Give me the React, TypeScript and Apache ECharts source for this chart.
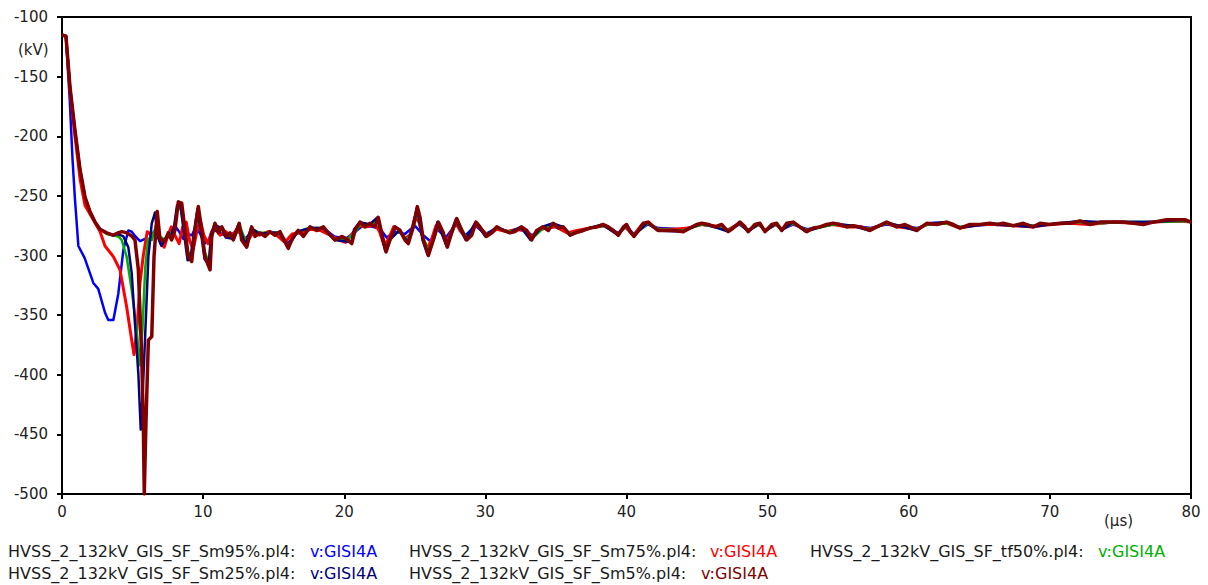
import React, { useEffect, useRef } from "react";
import * as echarts from "echarts";

// Time axis (µs) and voltage axis (kV) ranges
const xTicks = [0, 10, 20, 30, 40, 50, 60, 70, 80];
const yTicks = [-500, -450, -400, -350, -300, -250, -200, -150, -100];

// [time µs, voltage kV]
const sm95: number[][] = [
  [0,-115],[0.28,-117],[0.55,-170],[0.75,-220],[0.92,-253],[1.16,-292],[1.6,-302],[2.22,-323],[2.57,-328],[3.05,-348],[3.28,-354],[3.64,-354],[3.99,-332],[4.35,-295],[4.7,-279],[4.94,-280],[5.2,-284],[5.53,-288],[5.88,-286],[6.24,-287],[6.5,-280],[6.8,-283],[7.1,-290],[7.4,-285],[7.7,-282],[8.0,-275],[8.3,-280],[8.6,-286],[8.9,-282],[9.2,-283],[9.5,-276],[9.8,-282],[10.1,-290],[10.4,-287],[10.7,-278],[11.0,-280],[11.5,-283],[12.0,-282],[12.5,-280],[13.0,-286],[13.5,-279],[14.0,-282],[14.7,-281],[15.4,-281],[16.0,-290],[16.7,-280],[17.5,-278],[18.5,-277],[19.3,-284],[20.1,-286],[20.8,-280],[21.3,-275],[22.0,-276],[22.5,-277],[23.0,-285],[23.6,-280],[24.3,-282],[25.0,-275],[25.6,-283],[26.1,-288],[26.6,-278],[27.2,-285],[27.9,-274],[28.6,-283],[29.3,-275],[30.0,-282],[30.8,-277],[31.7,-280],[32.6,-277],[33.3,-283],[34.1,-277],[35.0,-276],[36.0,-281],[37.4,-277],[38.4,-275],[39.4,-281],[40.0,-275],[40.5,-282],[41.5,-274],[42.3,-277],[44.0,-278],[45.3,-274],[46.3,-276],[47.2,-279],[48.0,-274],[48.6,-279],[49.4,-274],[49.8,-279],[50.6,-274],[51.0,-278],[51.8,-274],[52.8,-278],[54.6,-274],[56.0,-275],[57.3,-277],[58.4,-274],[60.6,-277],[61.3,-274],[62.7,-273],[63.6,-276],[65.8,-274],[67.4,-275],[68.8,-275],[70.7,-273],[72.1,-272],[73.5,-273],[75.2,-272],[77.3,-272],[79.6,-271],[80,-272],
];

const sm75: number[][] = [
  [0,-115],[0.28,-116],[0.57,-162],[0.92,-200],[1.28,-236],[1.63,-258],[2.22,-270],[2.7,-280],[3.05,-292],[3.64,-301],[4.11,-312],[4.58,-343],[4.94,-371],[5.1,-383],[5.31,-362],[5.53,-323],[5.76,-300],[6.04,-280],[6.36,-283],[6.71,-279],[7.0,-290],[7.25,-293],[7.5,-283],[7.75,-276],[8.0,-283],[8.3,-290],[8.55,-276],[8.8,-272],[9.05,-288],[9.3,-295],[9.55,-280],[9.8,-270],[10.05,-283],[10.35,-290],[10.6,-280],[10.9,-277],[11.2,-283],[11.6,-280],[12.0,-284],[12.4,-278],[12.8,-284],[13.2,-287],[13.6,-280],[14.0,-283],[14.6,-280],[15.2,-283],[15.8,-289],[16.3,-282],[17.0,-281],[17.6,-278],[18.3,-279],[19.0,-283],[19.6,-287],[20.1,-289],[20.6,-281],[21.0,-275],[21.6,-276],[22.2,-274],[22.5,-280],[22.8,-291],[23.1,-287],[23.5,-276],[23.9,-278],[24.3,-286],[24.7,-282],[25.0,-268],[25.3,-272],[25.6,-287],[25.9,-294],[26.2,-286],[26.5,-275],[26.9,-280],[27.2,-290],[27.5,-282],[27.9,-272],[28.2,-279],[28.6,-285],[29.0,-281],[29.3,-274],[29.7,-278],[30.2,-283],[30.8,-278],[31.5,-280],[32.2,-278],[33.0,-280],[33.3,-285],[33.7,-279],[34.3,-277],[35.0,-276],[35.8,-281],[36.5,-279],[37.4,-277],[38.4,-275],[39.0,-279],[39.4,-282],[39.9,-276],[40.5,-283],[41.1,-274],[41.6,-273],[42.2,-278],[43.4,-278],[44.4,-277],[45.3,-274],[46.2,-275],[47.1,-279],[48.0,-273],[48.6,-279],[49.4,-274],[49.8,-279],[50.6,-274],[51.0,-278],[51.8,-273],[52.7,-279],[53.7,-276],[54.6,-274],[55.6,-276],[56.6,-276],[57.2,-278],[58.4,-273],[59.2,-276],[60.5,-278],[61.3,-274],[62.7,-273],[63.6,-277],[65.0,-274],[66.2,-274],[67.4,-275],[68.8,-276],[70.0,-274],[71.4,-273],[72.8,-274],[74.5,-272],[75.9,-273],[77.3,-272],[79.2,-271],[80,-272],
];

const tf50: number[][] = [
  [0,-115],[0.28,-116],[0.57,-159],[0.92,-195],[1.28,-228],[1.63,-251],[1.98,-263],[2.34,-272],[2.69,-278],[3.17,-282],[3.61,-283],[3.99,-284],[4.23,-287],[4.58,-301],[4.94,-329],[5.29,-362],[5.5,-392],[5.7,-362],[5.9,-310],[6.1,-286],[6.36,-287],[6.71,-273],[6.95,-284],[7.3,-287],[7.6,-282],[7.9,-280],[8.15,-262],[8.4,-260],[8.65,-278],[8.9,-297],[9.15,-300],[9.4,-280],[9.6,-264],[9.85,-278],[10.1,-297],[10.4,-305],[10.6,-285],[10.85,-275],[11.3,-278],[11.7,-283],[12.2,-285],[12.6,-275],[13.1,-291],[13.5,-278],[14.0,-281],[14.7,-281],[15.4,-281],[16.0,-292],[16.7,-280],[17.5,-277],[18.5,-277],[19.3,-286],[20.2,-287],[20.8,-280],[21.2,-273],[21.9,-274],[22.4,-270],[22.9,-294],[23.3,-286],[23.9,-279],[24.4,-288],[24.9,-277],[25.2,-262],[25.6,-285],[26.0,-297],[26.4,-285],[26.7,-273],[27.3,-291],[28.0,-270],[28.7,-286],[29.4,-273],[30.1,-283],[30.8,-277],[31.7,-280],[32.6,-277],[33.3,-286],[34.1,-277],[34.8,-274],[35.5,-276],[36.0,-282],[37.4,-277],[38.4,-275],[39.4,-282],[40.0,-275],[40.5,-283],[41.5,-273],[42.3,-278],[44.0,-279],[45.3,-274],[46.3,-276],[47.2,-279],[48.0,-273],[48.6,-279],[49.4,-274],[49.8,-279],[50.6,-274],[51.0,-278],[51.8,-273],[52.8,-279],[54.6,-274],[56.0,-275],[57.3,-278],[58.4,-273],[60.6,-278],[61.3,-274],[62.7,-273],[63.6,-276],[65.8,-273],[67.4,-275],[68.8,-275],[70.7,-273],[72.1,-272],[73.5,-273],[75.2,-272],[77.3,-272],[79.6,-271],[80,-272],
];

const sm25: number[][] = [
  [0,-115],[0.28,-116],[0.57,-159],[0.92,-195],[1.28,-228],[1.63,-251],[1.98,-263],[2.34,-272],[2.69,-278],[3.17,-281],[3.61,-283],[3.97,-282],[4.35,-284],[4.7,-293],[4.94,-315],[5.17,-357],[5.41,-399],[5.58,-446],[5.7,-420],[5.88,-371],[6.12,-301],[6.36,-273],[6.59,-264],[6.8,-285],[7.05,-292],[7.4,-284],[7.7,-285],[7.95,-275],[8.15,-258],[8.4,-258],[8.65,-282],[8.9,-304],[9.1,-303],[9.35,-280],[9.6,-261],[9.85,-281],[10.1,-303],[10.4,-308],[10.55,-283],[10.8,-274],[11.3,-277],[11.6,-285],[12.1,-286],[12.5,-274],[13.0,-291],[13.4,-277],[14.0,-282],[14.7,-281],[15.4,-281],[16.0,-293],[16.7,-280],[17.5,-277],[18.5,-277],[19.3,-287],[20.1,-288],[20.5,-289],[20.7,-278],[21.1,-272],[21.8,-274],[22.35,-268],[22.9,-296],[23.2,-287],[23.9,-279],[24.5,-289],[24.85,-276],[25.15,-260],[25.55,-287],[25.9,-299],[26.3,-287],[26.6,-272],[27.25,-292],[27.9,-270],[28.6,-287],[29.3,-272],[30.0,-284],[30.8,-276],[31.7,-281],[32.5,-276],[33.2,-287],[34.0,-276],[34.8,-273],[35.5,-276],[36.0,-283],[37.4,-277],[38.3,-274],[39.4,-283],[40.0,-274],[40.5,-284],[41.5,-272],[42.2,-279],[44.0,-280],[45.3,-273],[46.2,-276],[47.2,-280],[48.0,-272],[48.6,-280],[49.4,-273],[49.8,-280],[50.6,-273],[51.0,-279],[51.8,-272],[52.7,-280],[54.6,-273],[56.0,-275],[57.2,-279],[58.4,-272],[60.5,-279],[61.3,-273],[62.7,-272],[63.6,-277],[65.7,-273],[67.4,-275],[68.8,-276],[70.7,-273],[72.1,-271],[73.5,-272],[75.2,-272],[77.3,-272],[79.5,-270],[80,-272],
];

const sm5: number[][] = [
  [0,-115],[0.28,-116],[0.57,-159],[0.92,-195],[1.28,-228],[1.63,-251],[1.98,-263],[2.34,-272],[2.69,-278],[3.17,-281],[3.61,-283],[3.97,-281],[4.25,-280],[4.61,-281],[4.96,-284],[5.17,-287],[5.41,-312],[5.65,-385],[5.76,-440],[5.83,-500],[5.95,-440],[6.12,-371],[6.36,-368],[6.52,-301],[6.75,-263],[6.94,-286],[7.3,-288],[7.53,-281],[7.77,-287],[8.0,-279],[8.24,-255],[8.48,-256],[8.72,-279],[8.95,-301],[9.19,-305],[9.42,-279],[9.66,-259],[9.9,-279],[10.13,-301],[10.49,-312],[10.61,-284],[10.84,-273],[11.08,-281],[11.32,-276],[11.67,-284],[11.9,-281],[12.14,-287],[12.56,-273],[12.73,-287],[13.09,-293],[13.44,-276],[13.68,-284],[14.03,-281],[14.38,-284],[14.74,-280],[15.09,-283],[15.45,-280],[16.03,-294],[16.39,-284],[16.74,-279],[17.1,-284],[17.57,-276],[18.05,-279],[18.52,-276],[18.87,-281],[19.35,-287],[19.82,-284],[20.17,-286],[20.53,-290],[20.76,-279],[21.12,-272],[21.47,-276],[21.83,-273],[22.18,-276],[22.41,-268],[22.65,-281],[22.96,-297],[23.24,-287],[23.6,-276],[23.95,-279],[24.3,-287],[24.54,-290],[24.89,-276],[25.18,-259],[25.37,-268],[25.6,-287],[25.96,-300],[26.31,-287],[26.67,-272],[27.02,-281],[27.3,-293],[27.61,-281],[27.97,-269],[28.32,-279],[28.68,-287],[29.03,-283],[29.34,-272],[29.62,-276],[30.09,-284],[30.45,-281],[30.8,-276],[31.27,-279],[31.74,-281],[32.1,-280],[32.57,-276],[32.93,-279],[33.28,-287],[33.63,-279],[34.1,-276],[34.46,-279],[34.81,-273],[35.17,-277],[35.52,-276],[36.0,-283],[36.35,-281],[36.94,-279],[37.41,-277],[37.89,-276],[38.36,-274],[38.71,-276],[39.07,-279],[39.42,-283],[39.78,-276],[40.01,-274],[40.25,-280],[40.53,-284],[40.84,-279],[41.19,-273],[41.54,-272],[41.9,-276],[42.25,-279],[42.85,-279],[43.44,-279],[44.03,-280],[44.5,-277],[44.97,-274],[45.33,-273],[45.8,-274],[46.27,-276],[46.74,-274],[47.21,-280],[47.57,-277],[48.04,-272],[48.4,-276],[48.63,-280],[49.1,-274],[49.46,-273],[49.81,-280],[50.29,-274],[50.64,-273],[51.0,-279],[51.35,-273],[51.82,-272],[52.29,-276],[52.77,-280],[53.24,-277],[53.71,-276],[54.18,-274],[54.65,-273],[55.13,-274],[55.6,-276],[56.07,-275],[56.55,-276],[57.25,-279],[57.73,-276],[58.44,-272],[59.15,-276],[59.73,-274],[60.09,-276],[60.56,-279],[61.27,-273],[61.98,-274],[62.69,-272],[63.16,-274],[63.63,-277],[64.34,-274],[65.05,-274],[65.76,-273],[66.23,-274],[66.7,-273],[67.41,-275],[68.12,-273],[68.83,-276],[69.3,-273],[70.01,-274],[70.72,-273],[71.43,-273],[72.14,-271],[72.84,-274],[73.55,-272],[74.5,-272],[75.2,-272],[75.91,-273],[76.62,-274],[77.33,-272],[78.27,-270],[79.22,-270],[79.57,-270],[80,-272],
];

const seriesNames = [
  "HVSS_2_132kV_GIS_SF_Sm95%.pl4:",
  "HVSS_2_132kV_GIS_SF_Sm75%.pl4:",
  "HVSS_2_132kV_GIS_SF_tf50%.pl4:",
  "HVSS_2_132kV_GIS_SF_Sm25%.pl4:",
  "HVSS_2_132kV_GIS_SF_Sm5%.pl4:",
];
const variableLabel = "v:GISI4A";
const seriesData = [sm95, sm75, tf50, sm25, sm5];
const seriesColors = ["#0000ff", "#ff0000", "#00b000", "#000080", "#800000"];
const seriesWidths = [2.5, 3, 2.5, 2.5, 3.5];

// legend layout: [name x, variable x, row y]
const legendSlots = [
  [8, 310, 551],
  [409, 710, 551],
  [810, 1098, 551],
  [8, 310, 573],
  [409, 701, 573],
];

const FONT = "DejaVu Sans";

export default function App() {
  const ref = useRef<HTMLDivElement>(null);

  useEffect(() => {
    if (!ref.current) return;
    const chart = echarts.init(ref.current, undefined, { renderer: "svg" });

    const legendTexts: any[] = [];
    seriesNames.forEach((name, i) => {
      const [nx, vx, y] = legendSlots[i];
      legendTexts.push({
        type: "text",
        x: nx,
        y,
        style: { text: name, fill: "#1a1a1a", font: `16px "${FONT}"`, textVerticalAlign: "middle" },
      });
      legendTexts.push({
        type: "text",
        x: vx,
        y,
        style: { text: variableLabel, fill: seriesColors[i], font: `16px "${FONT}"`, textVerticalAlign: "middle" },
      });
    });

    chart.setOption({
      animation: false,
      backgroundColor: "#ffffff",
      textStyle: { fontFamily: FONT },
      grid: {
        left: 62,
        right: 17,
        top: 17,
        bottom: 91,
        show: true,
        borderColor: "#000",
        borderWidth: 2,
        backgroundColor: "transparent",
      },
      xAxis: {
        type: "value",
        min: xTicks[0],
        max: xTicks[xTicks.length - 1],
        interval: 10,
        axisLine: { show: true, onZero: false, lineStyle: { color: "#000", width: 2 } },
        axisTick: { show: true, inside: false, length: 5, lineStyle: { color: "#000", width: 2 } },
        axisLabel: { color: "#222", fontSize: 15, fontFamily: FONT, margin: 10 },
        splitLine: { show: false },
      },
      yAxis: {
        type: "value",
        min: yTicks[0],
        max: yTicks[yTicks.length - 1],
        interval: 50,
        axisLine: { show: true, onZero: false, lineStyle: { color: "#000", width: 2 } },
        axisTick: { show: true, inside: false, length: 5, lineStyle: { color: "#000", width: 2 } },
        axisLabel: { color: "#222", fontSize: 15, fontFamily: FONT, margin: 14 },
        splitLine: { show: false },
      },
      series: seriesData.map((d, i) => ({
        type: "line",
        name: seriesNames[i],
        data: d,
        showSymbol: false,
        symbol: "none",
        lineStyle: { color: seriesColors[i], width: seriesWidths[i], join: "round" },
        z: 2 + i,
        clip: true,
      })),
      graphic: [
        {
          type: "text",
          x: 18,
          y: 50,
          style: { text: "(kV)", fill: "#222", font: `15px "${FONT}"`, textVerticalAlign: "middle" },
        },
        {
          type: "text",
          x: 1104,
          y: 521,
          style: { text: "(µs)", fill: "#222", font: `15px "${FONT}"`, textVerticalAlign: "middle" },
        },
        ...legendTexts,
      ],
    });

    return () => chart.dispose();
  }, []);

  return (
    <div
      ref={ref}
      style={{ position: "fixed", left: 0, top: 0, width: 1208, height: 585, background: "#fff" }}
    />
  );
}
